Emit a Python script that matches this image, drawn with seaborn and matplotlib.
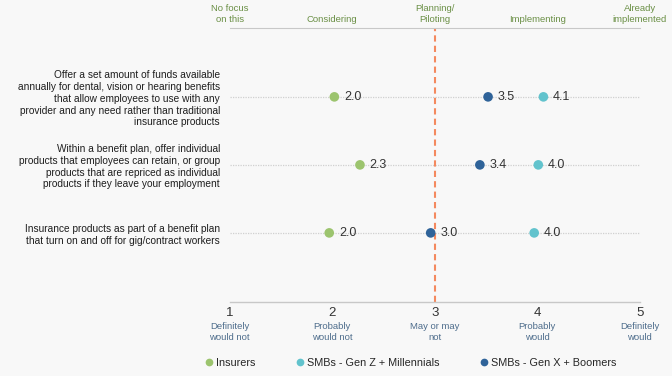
import numpy as np
import pandas as pd
import matplotlib
matplotlib.use('Agg')
import matplotlib.pyplot as plt
import seaborn as sns

# data
items = [
    "Offer a set amount of funds available\nannually for dental, vision or hearing benefits\n"
    "that allow employees to use with any\nprovider and any need rather than traditional\ninsurance products",
    "Within a benefit plan, offer individual\nproducts that employees can retain, or group\n"
    "products that are repriced as individual\nproducts if they leave your employment",
    "Insurance products as part of a benefit plan\nthat turn on and off for gig/contract workers",
]
insurers = [2.02, 2.27, 1.97]
gen_z = [4.06, 4.01, 3.97]
gen_x = [3.52, 3.44, 2.96]
groups = ['Insurers', 'SMBs - Gen Z + Millennials', 'SMBs - Gen X + Boomers']
colors = ['#9cc46e', '#62c3cd', '#2f6399']
scale_ticks = [1, 2, 3, 4, 5]
bottom_labels = ['Definitely\nwould not', 'Probably\nwould not', 'May or may\nnot',
                 'Probably\nwould', 'Definitely\nwould']
top_labels = ['No focus\non this', 'Considering', 'Planning/\nPiloting',
              'Implementing', 'Already\nimplemented']

rows = []
for g, vals in zip(groups, [insurers, gen_z, gen_x]):
    for i, v in enumerate(vals):
        rows.append({'row': i, 'value': v, 'group': g})
df = pd.DataFrame(rows)

sns.set_theme(style='white')
plt.rcParams['font.family'] = ['Liberation Sans', 'DejaVu Sans']

bg = '#f8f8f8'
fig = plt.figure(figsize=(6.72, 3.76), dpi=100, facecolor=bg)
ax = fig.add_axes([0.342, 0.197, 0.610, 0.729])
ax.set_facecolor(bg)

# row guide lines and midpoint line
ax.hlines(range(len(items)), 1, 5, colors='#d0d0d0', linestyles=(0, (1, 1)), lw=0.9, zorder=1)
ax.axvline(3, color='#f4895f', ls=(0, (3, 2)), lw=1.5, zorder=2)

sns.scatterplot(data=df, x='value', y='row', hue='group', hue_order=groups,
                palette=colors, s=48, edgecolor='none', ax=ax, zorder=3)
handles, labels = ax.get_legend_handles_labels()
ax.get_legend().remove()

for _, r in df.iterrows():
    ax.annotate(f"{r['value']:.1f}", (r['value'], r['row']), xytext=(7, 0),
                textcoords='offset points', va='center', ha='left',
                fontsize=9, color='#333333')

ax.set_xlim(1, 5)
ax.set_ylim(len(items) - 1 + 1.015, -1.015)
ax.set_xlabel('')
ax.set_ylabel('')

for s in ['left', 'right']:
    ax.spines[s].set_visible(False)
ax.spines['top'].set_color('#c8c8c8')
ax.spines['top'].set_linestyle((0, (1, 1)))
ax.spines['top'].set_linewidth(0.8)
ax.spines['bottom'].set_color('#c8c8c8')
ax.spines['bottom'].set_linewidth(1)

ax.set_xticks(scale_ticks)
ax.set_xticklabels([str(t) for t in scale_ticks], fontsize=9.5, color='#333333')
ax.tick_params(axis='x', length=3, color='#c8c8c8', pad=1)

ax.set_yticks(range(len(items)))
ax.set_yticklabels(items, fontsize=7.3, color='#1e1e1e', linespacing=1.22)
ax.tick_params(axis='y', length=0, pad=7)

for x, lab in zip(scale_ticks, bottom_labels):
    ax.text(x, -0.074, lab, transform=ax.get_xaxis_transform(), ha='center', va='top',
            fontsize=6.8, color='#4e6d8c', linespacing=1.2)
for x, lab in zip(scale_ticks, top_labels):
    ax.text(x, 1.015, lab, transform=ax.get_xaxis_transform(), ha='center', va='bottom',
            fontsize=6.8, color='#6a8f45', linespacing=1.2)

leg = fig.legend(handles, labels, loc='center', bbox_to_anchor=(0.61, 0.035), ncol=3,
                 frameon=False, handletextpad=0.15, columnspacing=3.6, markerscale=0.8,
                 handlelength=1, prop={'size': 7.8})

fig.savefig('out.png', dpi=100, facecolor=fig.get_facecolor())
